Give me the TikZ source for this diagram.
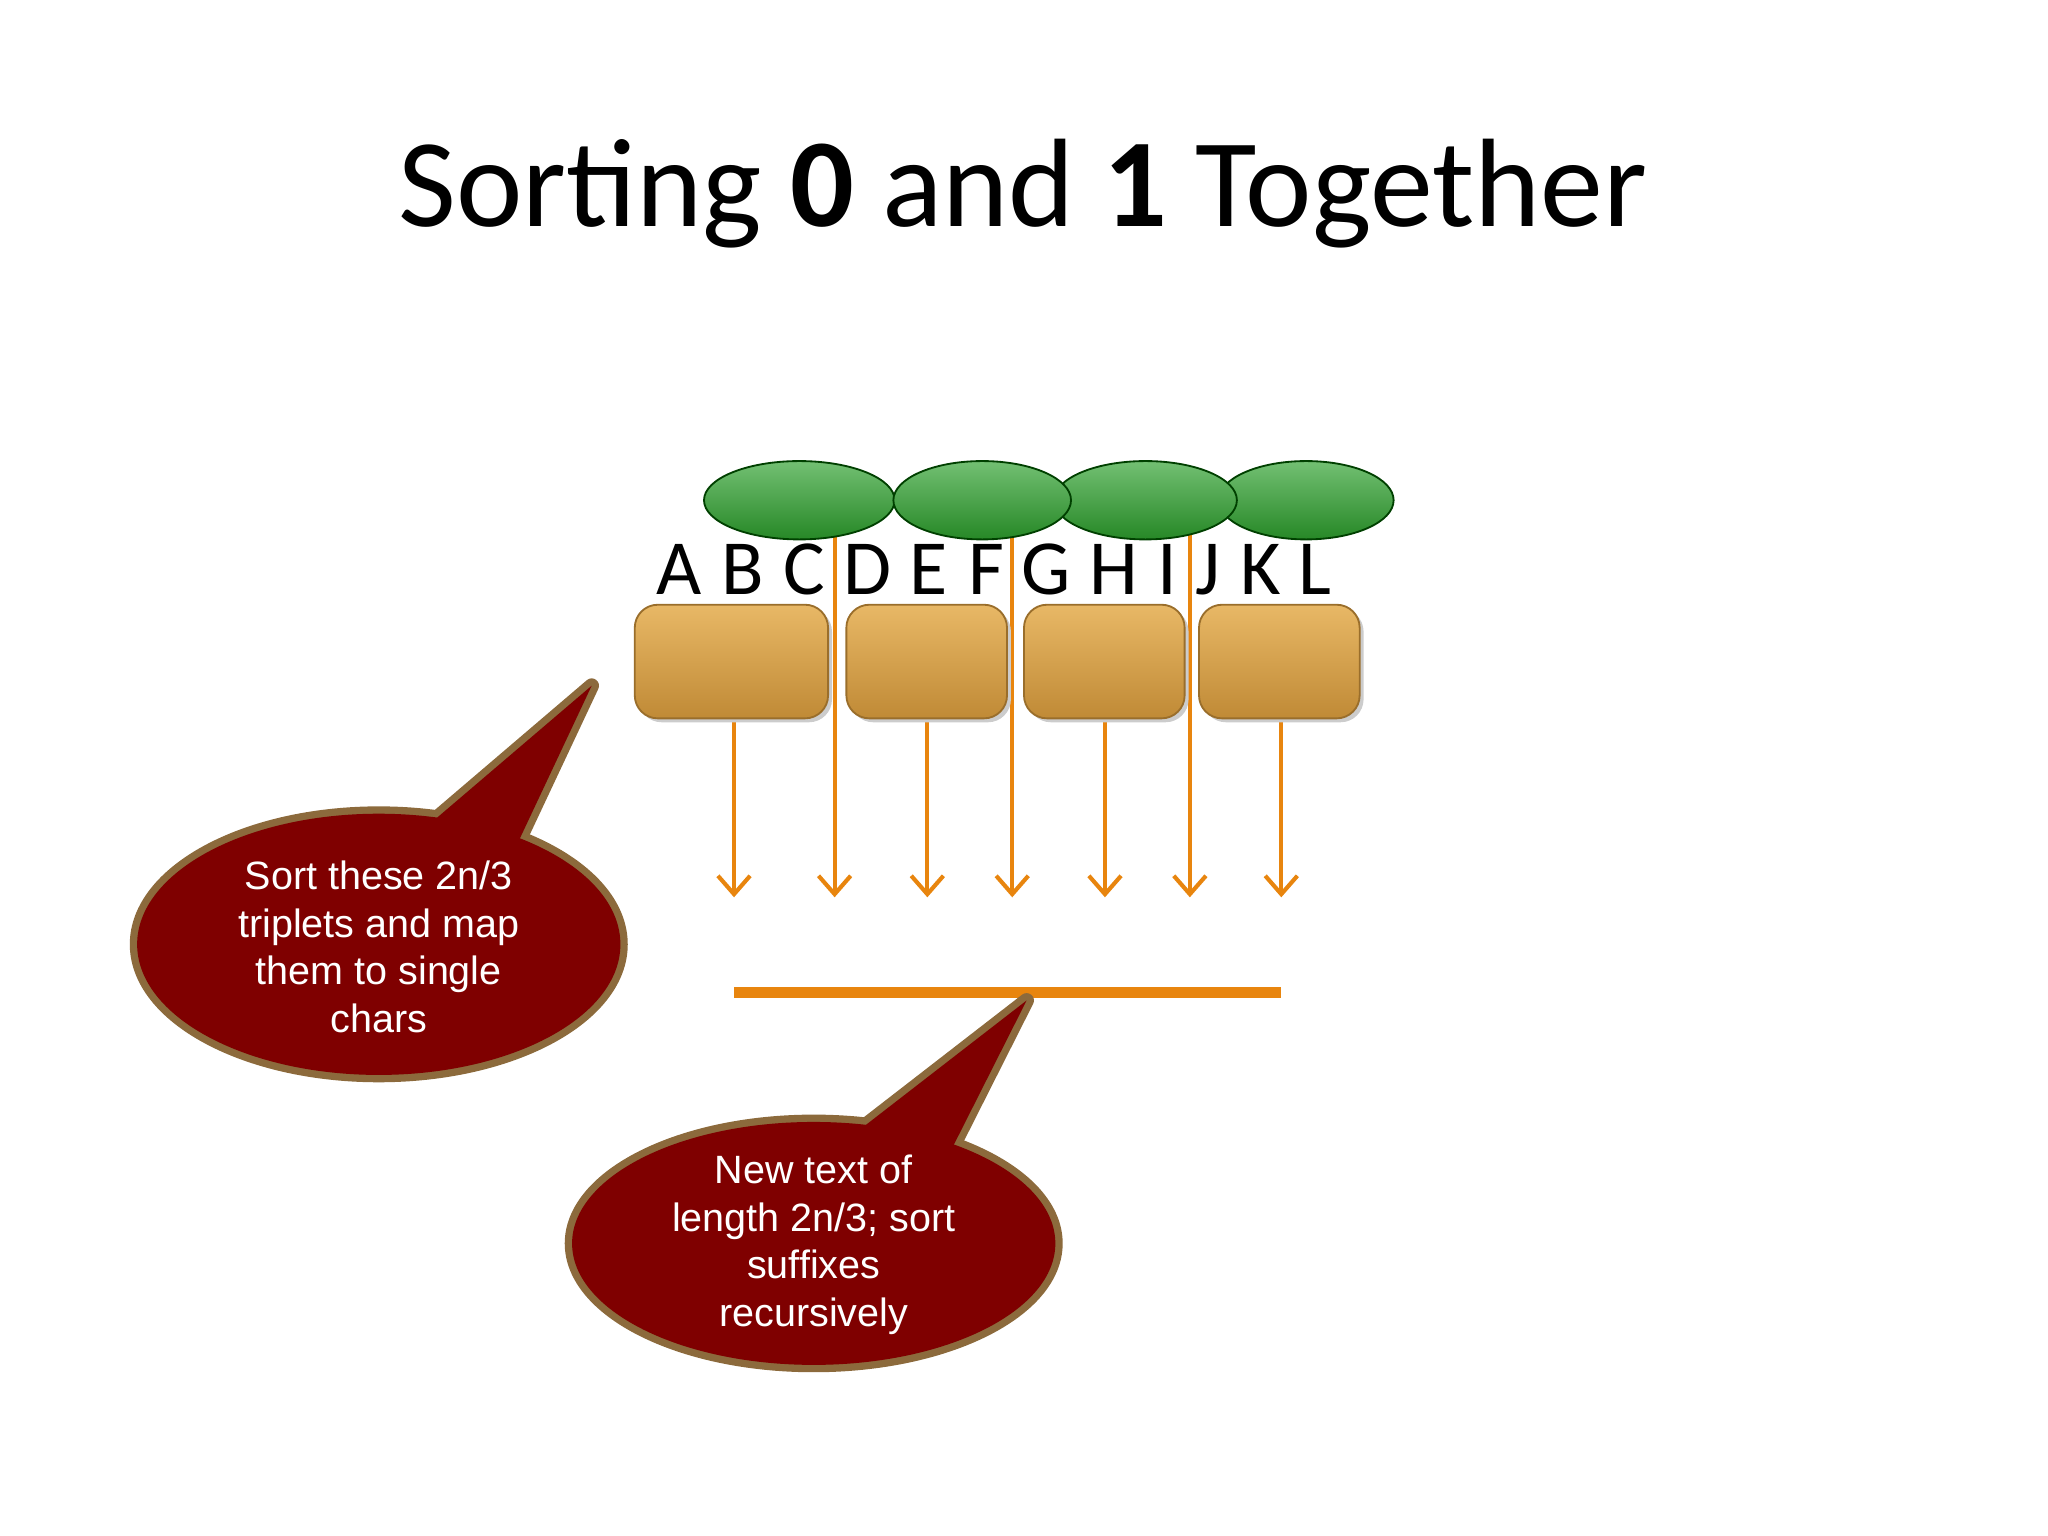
\documentclass[tikz,border=0pt]{standalone}
\usepackage{fontspec}
\setmainfont{Carlito}
\newfontfamily\arialf{Liberation Sans}
\usetikzlibrary{shapes.geometric,arrows.meta}
\definecolor{darkred}{HTML}{7F0000}
\definecolor{rim}{HTML}{8C6A3C}
\definecolor{arr}{HTML}{E8850E}
\definecolor{tanT}{HTML}{E8B866}
\definecolor{tanB}{HTML}{C08A36}
\tikzset{
  lbl/.style={font=\fontsize{17}{17}\selectfont, anchor=base},
  ctext/.style={font=\arialf\fontsize{8.6}{10.4}\selectfont, text=white, align=center},
  arrline/.style={draw=arr, line width=0.9pt, -{Straight Barb[length=4pt,width=7pt]}}
}
\begin{document}
\begin{tikzpicture}[x=0.01cm,y=-0.01cm]
\useasboundingbox (0,0) rectangle (1568,1176);
\node[font=\fontsize{27.4}{28}\selectfont] (title) at (783,148) {Sort{}ing \textbf{0} and \textbf{1} Together};
% arrows
\foreach \x in {562,710,846,981}{
  \coordinate (s\x) at (\x,552); \coordinate (t\x) at (\x,687);
  \draw[arrline] (s\x) -- (t\x);
}
\foreach \x in {639,775,911}{
  \coordinate (s\x) at (\x,383); \coordinate (t\x) at (\x,687);
  \draw[arrline] (s\x) -- (t\x);
}
% ellipses
\foreach \n/\cx/\rx in {e1/612/73, e4/1000/67, e3/877/70, e2/752/68}{
  \path[draw=green!25!black, top color=green!55!black!55, bottom color=green!45!black!85] (\cx,383) ellipse ({\rx} and 30);
  \coordinate (\n) at (\cx,383);
}
% letters
\foreach \l/\x in {A/520,B/569,C/616,D/664,E/711,F/755,G/801,H/853,I/894,J/925,K/965,L/1007}{
  \node[lbl] (l\l) at (\x,455) {\l};
}
% boxes
\foreach \n/\a/\b in {b1/486/634, b2/648/771, b3/784/907, b4/918/1041}{
  \fill[gray!40, rounded corners=5] (\a+3,466) rectangle (\b+3,553);
  \path[rounded corners=5, top color=tanT, bottom color=tanB, draw=tanB!80!black] (\a,463) rectangle (\b,550);
  \coordinate (\n) at ({(\a+\b)/2},550);
}
% orange line
\coordinate (o1) at (562,760); \coordinate (o2) at (981,760);
\draw[arr, line width=2.4pt] (o1) -- (o2);
% callouts
\foreach \cx/\cy/\rx/\ry/\ax/\ay/\bx/\by/\px/\py in {290/723/185/100/330/630/398/642/453/525, 623/952/185/93/662/862/730/877/786/766}{
  \draw[rim, line width=3.2pt] (\cx,\cy) ellipse ({\rx} and {\ry});
  \draw[rim, line width=3.2pt, line join=round] (\ax,\ay) -- (\px,\py) -- (\bx,\by);
  \fill[darkred] (\cx,\cy) ellipse ({\rx} and {\ry});
  \fill[darkred] (\ax-10,\ay+12) -- (\ax,\ay) -- (\px,\py) -- (\bx,\by) -- (\bx-10,\by+20) -- cycle;
}
\node[ctext] (c1) at (290,725) {Sort these 2n/3\\triplets and map\\them to single\\chars};
\node[ctext] (c2) at (623,953) {New text of\\length 2n/3; sort\\suffixes\\recursively};
\end{tikzpicture}
\end{document}
